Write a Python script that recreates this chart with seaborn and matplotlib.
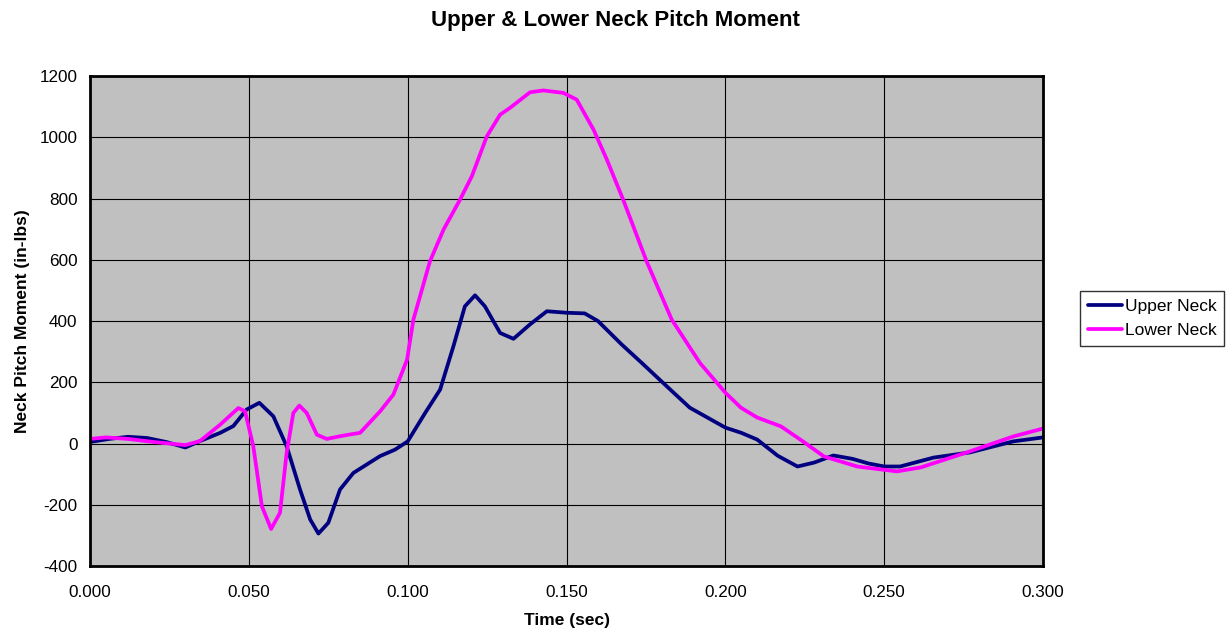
import numpy as np
import pandas as pd
import matplotlib
matplotlib.use("Agg")
import matplotlib.pyplot as plt
from matplotlib.ticker import FormatStrFormatter
import seaborn as sns

# values
upper_t = [0.000, 0.006, 0.012, 0.018, 0.024, 0.030, 0.0346, 0.041, 0.0451, 0.0493,
           0.0533, 0.0577, 0.0619, 0.0661, 0.0693, 0.0719, 0.075, 0.0787, 0.0829, 0.0913,
           0.096, 0.100, 0.1055, 0.1102, 0.1144, 0.118, 0.1212, 0.1243, 0.1291, 0.1333,
           0.1385, 0.1438, 0.150, 0.1557, 0.1599, 0.1673, 0.1736, 0.1804, 0.1888, 0.200,
           0.205, 0.210, 0.2165, 0.2227, 0.228, 0.234, 0.240, 0.245, 0.250, 0.255,
           0.2655, 0.277, 0.2906, 0.300]
upper_v = [5, 15, 22, 18, 5, -13, 8, 35, 57, 111,
           133, 89, -9, -150, -248, -294, -259, -150, -96, -41,
           -20, 7, 100, 176, 318, 448, 484, 448, 361, 342,
           389, 432, 427, 425, 400, 324, 264, 198, 117, 52,
           35, 13, -40, -75, -62, -39, -50, -65, -75, -75,
           -46, -29, 7, 20]

lower_t = [0.000, 0.005, 0.012, 0.020, 0.030, 0.0346, 0.041, 0.0467, 0.0488, 0.0514,
           0.0541, 0.057, 0.0598, 0.0619, 0.064, 0.0659, 0.0682, 0.0714, 0.0745, 0.0798,
           0.085, 0.0913, 0.0955, 0.0998, 0.1018, 0.107, 0.1113, 0.1165, 0.1202, 0.1249,
           0.1291, 0.1322, 0.1385, 0.1427, 0.149, 0.1532, 0.1585, 0.1627, 0.1678, 0.1752,
           0.1831, 0.192, 0.200, 0.2049, 0.210, 0.2175, 0.224, 0.231, 0.2415, 0.254,
           0.2615, 0.276, 0.2906, 0.300]
lower_v = [15, 20, 15, 5, -5, 8, 62, 116, 105, -9,
           -205, -279, -226, -30, 100, 124, 100, 29, 15, 26,
           35, 105, 160, 274, 405, 595, 699, 797, 873, 1003,
           1074, 1096, 1147, 1153, 1145, 1123, 1025, 927, 797, 595,
           405, 263, 166, 117, 85, 56, 10, -42, -75, -91,
           -78, -29, 23, 49]

df = pd.concat([
    pd.DataFrame({"t": upper_t, "m": upper_v, "series": "Upper Neck"}),
    pd.DataFrame({"t": lower_t, "m": lower_v, "series": "Lower Neck"}),
])

sns.set_theme(style="white")
plt.rcParams["font.family"] = ["Liberation Sans", "DejaVu Sans"]
plt.rcParams["axes.unicode_minus"] = False
plt.rcParams["text.color"] = "black"
plt.rcParams["axes.labelcolor"] = "black"

fig = plt.figure(figsize=(12.3, 6.39), dpi=100)
ax = fig.add_axes([0.0732, 0.1142, 0.7748, 0.7668])
ax.set_facecolor("#C0C0C0")

sns.lineplot(data=df, x="t", y="m", hue="series", sort=False,
             palette={"Upper Neck": "#000080", "Lower Neck": "#FF00FF"},
             linewidth=2.7, solid_joinstyle="round", ax=ax)

ax.set_xlim(0, 0.3)
ax.set_ylim(-400, 1200)
ax.set_xticks(np.arange(0, 0.301, 0.05))
ax.set_yticks(np.arange(-400, 1201, 200))
ax.xaxis.set_major_formatter(FormatStrFormatter("%.3f"))
ax.grid(True, color="black", linewidth=0.8)
ax.set_axisbelow(True)
for s in ax.spines.values():
    s.set_color("black")
    s.set_linewidth(2)
ax.tick_params(axis="both", direction="out", length=5, width=1, colors="black",
               labelsize=12.3, pad=4)
ax.tick_params(axis="x", pad=9)

ax.set_xlabel("Time (sec)", fontsize=12.5, fontweight="bold", labelpad=9)
ax.set_ylabel("Neck Pitch Moment (in-lbs)", fontsize=12.5, fontweight="bold", labelpad=7)
fig.suptitle("Upper & Lower Neck Pitch Moment", fontsize=16, fontweight="bold",
             x=0.5, y=0.985)

leg = ax.legend(loc="center left", bbox_to_anchor=(1.0385, 0.505), frameon=True,
                fancybox=False, edgecolor="black", fontsize=12.5, handlelength=2.0,
                handletextpad=0.15, borderpad=0.45, labelspacing=0.5,
                borderaxespad=0)
leg.get_frame().set_linewidth(1)

fig.savefig("out.png", dpi=100)
